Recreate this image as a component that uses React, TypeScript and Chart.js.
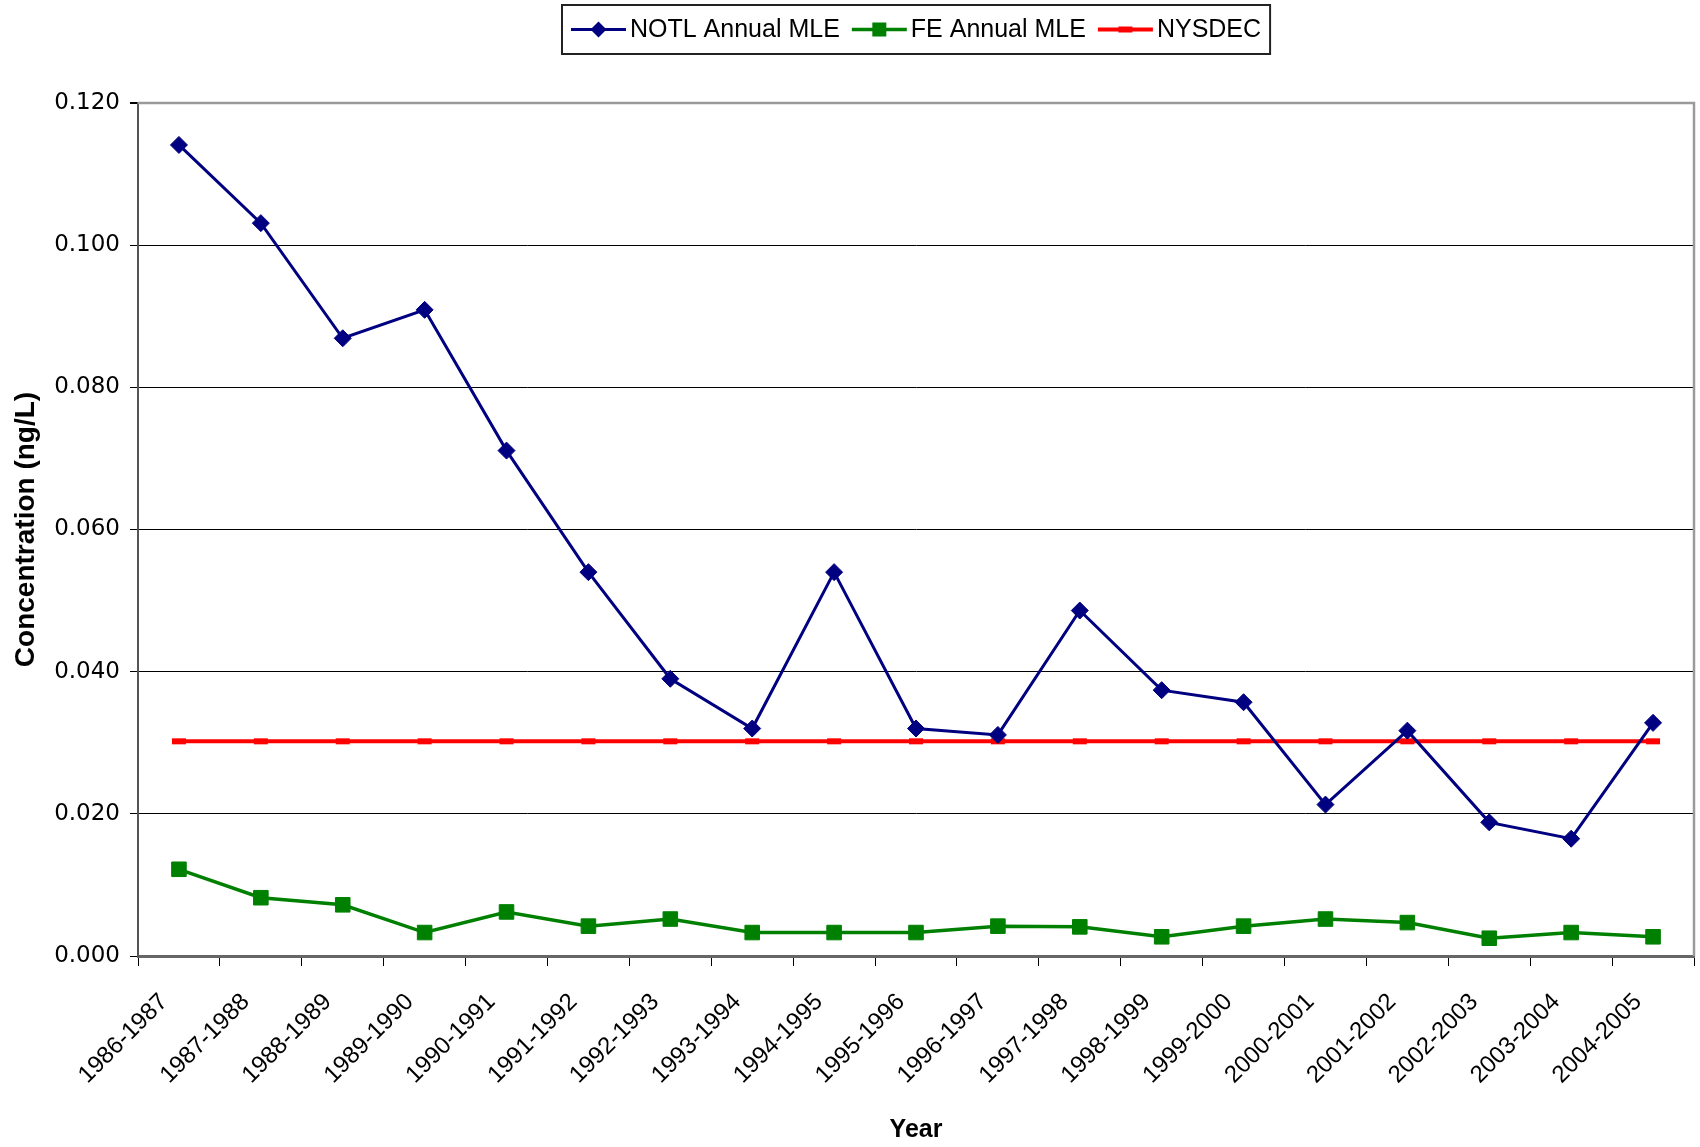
import React, { useEffect, useRef } from 'react';
import { Chart, registerables } from 'chart.js';

Chart.register(...registerables);

const categories = [
  '1986-1987', '1987-1988', '1988-1989', '1989-1990', '1990-1991', '1991-1992', '1992-1993',
  '1993-1994', '1994-1995', '1995-1996', '1996-1997', '1997-1998', '1998-1999', '1999-2000',
  '2000-2001', '2001-2002', '2002-2003', '2003-2004', '2004-2005',
];

const notlValues = [
  0.1141, 0.1031, 0.0869, 0.0909, 0.0711, 0.054, 0.039, 0.032, 0.054, 0.032,
  0.0311, 0.0486, 0.0374, 0.0357, 0.0213, 0.0317, 0.0188, 0.0165, 0.0328,
];

const feValues = [
  0.0122, 0.0082, 0.0072, 0.0033, 0.0062, 0.0042, 0.0052, 0.0033, 0.0033, 0.0033,
  0.0042, 0.0041, 0.0027, 0.0042, 0.0052, 0.0047, 0.0025, 0.0033, 0.0027,
];

const nysdecValues = [
  0.0302, 0.0302, 0.0302, 0.0302, 0.0302, 0.0302, 0.0302, 0.0302, 0.0302, 0.0302,
  0.0302, 0.0302, 0.0302, 0.0302, 0.0302, 0.0302, 0.0302, 0.0302, 0.0302,
];

const yTicks = [0, 0.02, 0.04, 0.06, 0.08, 0.1, 0.12];

const seriesLabels = ['NOTL Annual MLE', 'FE Annual MLE', 'NYSDEC'];

const ARIAL = '"Liberation Sans", Arial, sans-serif';
const VERDANA = '"DejaVu Sans", Verdana, sans-serif';

const PLOT_LEFT = 138;
const PLOT_TOP = 103;
const PLOT_RIGHT = 1694;
const PLOT_BOTTOM = 956;
const W = 1700;
const H = 1147;

const drawMarker = (ctx: CanvasRenderingContext2D, style: string, x: number, y: number, color: string) => {
  ctx.save();
  ctx.fillStyle = color;
  ctx.strokeStyle = color;
  if (style === 'rectRot') {
    ctx.beginPath();
    ctx.moveTo(x, y - 8);
    ctx.lineTo(x + 8, y);
    ctx.lineTo(x, y + 8);
    ctx.lineTo(x - 8, y);
    ctx.closePath();
    ctx.fill();
  } else if (style === 'rect') {
    ctx.fillRect(x - 7, y - 7, 14, 14);
  } else {
    ctx.lineWidth = 6;
    ctx.beginPath();
    ctx.moveTo(x - 7, y);
    ctx.lineTo(x + 7, y);
    ctx.stroke();
  }
  ctx.restore();
};

const customLegend = {
  id: 'customLegend',
  afterDraw(chart: any) {
    const ctx: CanvasRenderingContext2D = chart.ctx;
    const area = chart.chartArea;
    ctx.save();
    // plot border (top & right)
    ctx.strokeStyle = '#9a9a9a';
    ctx.lineWidth = 2.5;
    ctx.beginPath();
    ctx.moveTo(area.left, area.top);
    ctx.lineTo(area.right, area.top);
    ctx.lineTo(area.right, area.bottom);
    ctx.stroke();

    ctx.font = `25px ${ARIAL}`;
    const sampleW = 55;
    const textGap = 4;
    const itemGap = 12;
    const padX = 9;
    const datasets = chart.data.datasets;
    const widths = datasets.map((ds: any) => ctx.measureText(ds.label).width);
    let total = padX * 2;
    widths.forEach((w: number, i: number) => {
      total += sampleW + textGap + w + (i > 0 ? itemGap : 0);
    });
    const cx = (area.left + area.right) / 2;
    const x0 = Math.round(cx - total / 2);
    const y0 = 5;
    const h = 49;
    ctx.fillStyle = '#fff';
    ctx.fillRect(x0, y0, total, h);
    ctx.strokeStyle = '#222';
    ctx.lineWidth = 2;
    ctx.strokeRect(x0, y0, total, h);
    const cy = y0 + h / 2;
    let x = x0 + padX;
    datasets.forEach((ds: any, i: number) => {
      if (i > 0) x += itemGap;
      ctx.strokeStyle = ds.borderColor;
      ctx.lineWidth = ds.borderWidth;
      ctx.beginPath();
      ctx.moveTo(x, cy);
      ctx.lineTo(x + sampleW, cy);
      ctx.stroke();
      drawMarker(ctx, ds.pointStyle, x + sampleW / 2, cy, ds.pointBackgroundColor);
      x += sampleW + textGap;
      ctx.fillStyle = '#000';
      ctx.textAlign = 'left';
      ctx.textBaseline = 'middle';
      ctx.fillText(ds.label, x, cy + 1);
      x += widths[i];
    });
    ctx.restore();
  },
};

export default function App() {
  const canvasRef = useRef<HTMLCanvasElement | null>(null);

  useEffect(() => {
    if (!canvasRef.current) return;
    const chart = new Chart(canvasRef.current, {
      type: 'line',
      data: {
        labels: categories,
        datasets: [
          {
            label: seriesLabels[0],
            data: notlValues,
            borderColor: '#000080',
            backgroundColor: '#000080',
            pointBackgroundColor: '#000080',
            pointBorderColor: '#000080',
            borderWidth: 3,
            pointStyle: 'rectRot',
            pointRadius: 8.5,
            pointBorderWidth: 1,
            tension: 0,
          },
          {
            label: seriesLabels[1],
            data: feValues,
            borderColor: '#008000',
            backgroundColor: '#008000',
            pointBackgroundColor: '#008000',
            pointBorderColor: '#008000',
            borderWidth: 3.5,
            pointStyle: 'rect',
            pointRadius: 10.3,
            pointBorderWidth: 1,
            tension: 0,
          },
          {
            label: seriesLabels[2],
            data: nysdecValues,
            borderColor: '#ff0000',
            backgroundColor: '#ff0000',
            pointBackgroundColor: '#ff0000',
            pointBorderColor: '#ff0000',
            borderWidth: 4,
            pointStyle: 'line',
            pointRadius: 7,
            pointBorderWidth: 6,
            tension: 0,
          },
        ],
      },
      options: {
        responsive: false,
        animation: false,
        devicePixelRatio: 1,
        layout: {
          autoPadding: false,
          padding: { top: PLOT_TOP, right: W - PLOT_RIGHT, left: 0, bottom: 0 },
        },
        plugins: {
          legend: { display: false },
          tooltip: { enabled: false },
        },
        scales: {
          x: {
            type: 'category',
            offset: true,
            grid: {
              offset: true,
              drawOnChartArea: false,
              drawTicks: true,
              tickLength: 10,
              tickColor: '#000',
              lineWidth: 1,
            },
            border: { color: '#666', width: 3 },
            ticks: {
              autoSkip: false,
              minRotation: 45,
              maxRotation: 45,
              color: '#000',
              padding: 22,
              labelOffset: -15,
              font: { family: ARIAL, size: 24 },
            },
            title: {
              display: true,
              text: 'Year',
              color: '#000',
              font: { family: ARIAL, size: 25, weight: 'bold' },
              padding: { top: 0, bottom: 2 },
            },
            afterFit: (scale: any) => {
              scale.height = H - PLOT_BOTTOM;
              scale.paddingLeft = 0;
              scale.paddingRight = 0;
            },
          },
          y: {
            min: 0,
            max: 0.12,
            afterBuildTicks: (scale: any) => {
              scale.ticks = yTicks.map((v) => ({ value: v }));
            },
            grid: {
              color: (c: any) => (c.tick && c.tick.value >= 0.12 ? '#9a9a9a' : '#000'),
              lineWidth: (c: any) => (c.tick && c.tick.value >= 0.12 ? 2 : 1),
              drawTicks: true,
              tickLength: 8,
              tickColor: '#000',
            },
            border: { color: '#555', width: 2 },
            ticks: {
              color: '#000',
              padding: 10,
              font: { family: VERDANA, size: 23 },
              callback: (v: any) => Number(v).toFixed(3),
            },
            title: {
              display: true,
              text: 'Concentration (ng/L)',
              color: '#000',
              font: { family: ARIAL, size: 28, weight: 'bold' },
              padding: { top: 9, bottom: 0 },
            },
            afterFit: (scale: any) => {
              scale.width = PLOT_LEFT;
              scale.paddingTop = 0;
              scale.paddingBottom = 0;
            },
          },
        },
      },
      plugins: [customLegend],
    } as any);

    return () => chart.destroy();
  }, []);

  return (
    <div style={{ position: 'absolute', left: 0, top: 0, width: W, height: H, background: '#fff' }}>
      <canvas ref={canvasRef} width={W} height={H} style={{ display: 'block' }} />
    </div>
  );
}
